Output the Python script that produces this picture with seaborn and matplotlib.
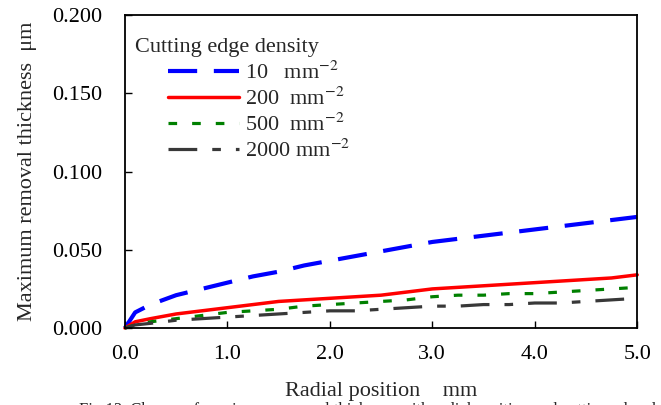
import numpy as np
import pandas as pd
import matplotlib
matplotlib.use("Agg")
import matplotlib.pyplot as plt
from matplotlib.lines import Line2D
import seaborn as sns

# data
radial_pos = [0.0, 0.1, 0.25, 0.5, 0.75, 1.0, 1.25, 1.5, 1.75, 2.0, 2.25, 2.5,
              2.75, 3.0, 3.25, 3.5, 3.75, 4.0, 4.25, 4.5, 4.75, 5.0]
thick_10 = [0, 0.010, 0.015, 0.021, 0.025, 0.029, 0.033, 0.036, 0.040, 0.043, 0.046,
            0.049, 0.052, 0.055, 0.057, 0.059, 0.061, 0.063, 0.065, 0.067, 0.069, 0.071]
thick_200 = [0, 0.004, 0.006, 0.009, 0.011, 0.013, 0.015, 0.017, 0.018, 0.019, 0.020,
             0.021, 0.023, 0.025, 0.026, 0.027, 0.028, 0.029, 0.030, 0.031, 0.032, 0.034]
thick_500 = [0, 0.002, 0.004, 0.006, 0.008, 0.010, 0.011, 0.012, 0.014, 0.015, 0.016,
             0.017, 0.018, 0.020, 0.021, 0.021, 0.022, 0.022, 0.023, 0.024, 0.025, 0.026]
thick_2000 = [0, 0.002, 0.003, 0.005, 0.006, 0.007, 0.008, 0.009, 0.010, 0.011, 0.011,
              0.012, 0.013, 0.014, 0.014, 0.015, 0.015, 0.016, 0.016, 0.017, 0.018, 0.019]

densities = ["10", "200", "500", "2000"]
legend_labels = ["10   mm$^{-2}$", "200  mm$^{-2}$", "500  mm$^{-2}$", "2000 mm$^{-2}$"]
x_ticks = [0.0, 1.0, 2.0, 3.0, 4.0, 5.0]
y_ticks = [0.0, 0.05, 0.10, 0.15, 0.20]

df = pd.DataFrame({
    "x": radial_pos * 4,
    "y": thick_10 + thick_200 + thick_500 + thick_2000,
    "density": sum([[d] * len(radial_pos) for d in densities], []),
})

sns.set_style("white")
plt.rcParams["font.family"] = ["Liberation Serif", "DejaVu Serif"]
plt.rcParams["mathtext.fontset"] = "stix"

colors = {"10": "#0000ff", "200": "#ff0000", "500": "#008000", "2000": "#383838"}
styles = {"10": (7, 4), "200": None, "500": (2.7, 4.7), "2000": (9, 4.7, 2.7, 4.7)}
widths = {"10": 3.0, "200": 2.5, "500": 2.3, "2000": 2.3}
fs = 16

fig = plt.figure(figsize=(6.61, 4.05), dpi=100)
ax = fig.add_axes([0.189, 0.19, 0.775, 0.773])

handles = []
for d, lab in zip(densities, legend_labels):
    sub = df[df["density"] == d]
    sns.lineplot(data=sub, x="x", y="y", ax=ax, color=colors[d], lw=widths[d],
                 legend=False, clip_on=False)
    line = ax.get_lines()[-1]
    if styles[d] is not None:
        line.set_dashes(styles[d])
    handles.append(Line2D([], [], color=colors[d], lw=widths[d],
                          dashes=styles[d] if styles[d] else (None, None), label=lab))

ax.set_xlim(0, 5)
ax.set_ylim(0, 0.2)
ax.set_xticks(x_ticks)
ax.set_xticklabels([f"{v:.1f}" for v in x_ticks])
ax.set_yticks(y_ticks)
ax.set_yticklabels([f"{v:.3f}" for v in y_ticks])
ax.tick_params(direction="in", length=5, width=1, labelsize=fs, colors="black",
               left=True, bottom=True)
ax.tick_params(axis="y", pad=16)
ax.tick_params(axis="x", pad=12)
for sp in ax.spines.values():
    sp.set_color("black")
    sp.set_linewidth(1.3)

ax.set_xlabel("Radial position    mm", fontsize=fs, labelpad=13)
ax.set_ylabel("Maximum removal thickness  \u03bcm", fontsize=fs, labelpad=11)

ax.text(0.02, 0.895, "Cutting edge density", transform=ax.transAxes, fontsize=fs,
        va="center", ha="left")
leg = ax.legend(handles=handles, loc="upper left", bbox_to_anchor=(0.084, 0.85),
                frameon=False, fontsize=fs, handlelength=3.2, handletextpad=0.25,
                labelspacing=0.16, borderpad=0, borderaxespad=0)

fig.text(0.12, -0.012, "Fig.13  Change of maximum removal thickness with radial position and cutting edge density",
         fontsize=12, va="center", ha="left")

fig.savefig("out.png", dpi=100)
